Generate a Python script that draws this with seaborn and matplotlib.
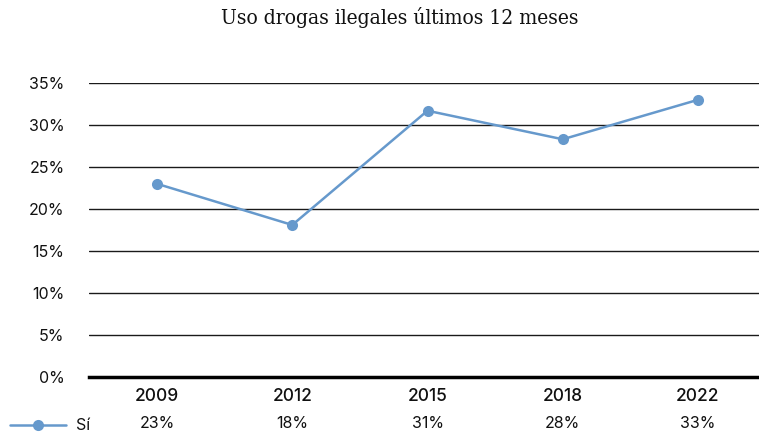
import matplotlib

matplotlib.use("Agg")

import matplotlib.pyplot as plt
import pandas as pd
import seaborn as sns
from matplotlib.lines import Line2D
from matplotlib.ticker import FuncFormatter

# datos
years = ["2009", "2012", "2015", "2018", "2022"]
si_values = [23.0, 18.1, 31.7, 28.3, 33.0]
si_labels = ["23%", "18%", "31%", "28%", "33%"]
series_name = "Sí"
title = "Uso drogas ilegales últimos 12 meses"

color = "#6699CC"
sans = ["Inter", "DejaVu Sans"]

sns.set_theme(style="white")
plt.rcParams["font.family"] = sans

df = pd.DataFrame({"year": years, "value": si_values})

fig = plt.figure(figsize=(7.59, 4.37), dpi=100)
ax = fig.add_axes([89.4 / 759, 60 / 437, 676.2 / 759, 294 / 437])

sns.lineplot(
    data=df, x="year", y="value", sort=False, ax=ax,
    color=color, linewidth=1.8, marker="o", markersize=8,
    markeredgewidth=0, zorder=3,
)

ax.set_xlim(-0.5, len(years) - 0.5)
ax.set_ylim(0, 35)
ax.set_yticks(range(0, 36, 5))
ax.yaxis.set_major_formatter(FuncFormatter(lambda v, _: f"{v:.0f}%"))
ax.grid(axis="y", color="#1a1a1a", linewidth=1.0)
ax.set_axisbelow(True)
for side in ["top", "right", "left"]:
    ax.spines[side].set_visible(False)
ax.spines["bottom"].set_color("black")
ax.spines["bottom"].set_linewidth(2.5)
ax.tick_params(axis="both", length=0, colors="#111111")
ax.tick_params(axis="y", pad=18, labelsize=11.5)
ax.tick_params(axis="x", pad=8, labelsize=12.5)
for lab in ax.get_xticklabels():
    lab.set_fontweight("medium")
ax.set_xlabel("")
ax.set_ylabel("")

# fila de tabla de datos
trans = ax.get_xaxis_transform()
for i, lab in enumerate(si_labels):
    ax.text(i, -47 / 294, lab, transform=trans, ha="center", va="center",
            fontsize=11.5, color="#111111", clip_on=False)

y_leg = 1 - 425 / 437
fig.add_artist(Line2D([10 / 759, 66 / 759], [y_leg, y_leg], transform=fig.transFigure,
                      color=color, linewidth=1.8))
fig.add_artist(Line2D([38 / 759], [y_leg], transform=fig.transFigure, color=color,
                      marker="o", markersize=8, markeredgewidth=0))
fig.text(76 / 759, y_leg, series_name, ha="left", va="center", fontsize=11.5, color="#111111")

fig.text(400 / 759, 1 - 17 / 437, title, ha="center", va="center", fontsize=15,
         family=["DejaVu Serif", "Liberation Serif"], stretch="condensed",
         color="#111111")

fig.savefig("out.png", dpi=100)
